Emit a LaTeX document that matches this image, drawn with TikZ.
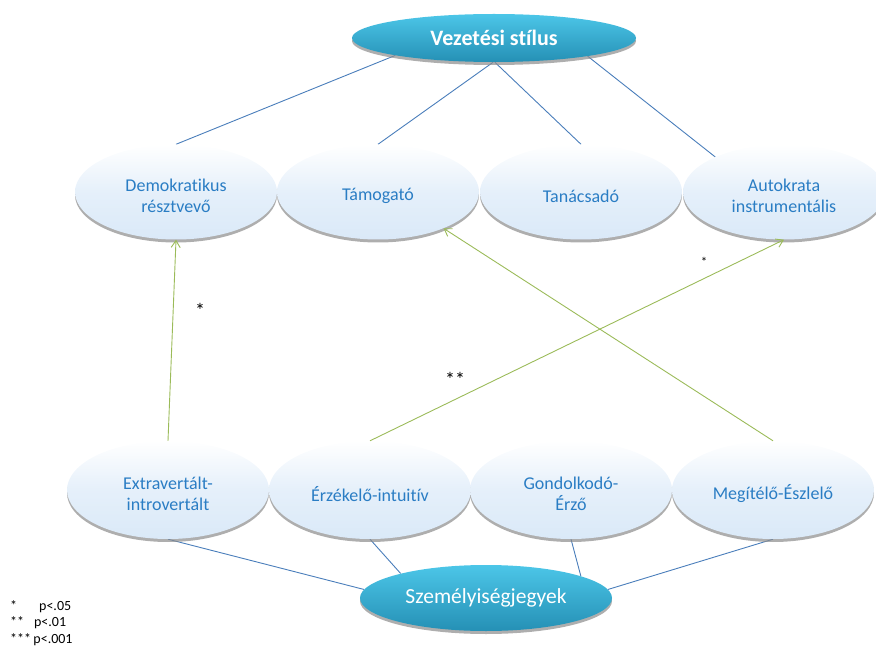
\documentclass[tikz,border=0pt]{standalone}
\usepackage{fontspec}
\setmainfont{Carlito}[Ligatures=NoCommon]
\usetikzlibrary{shapes.geometric,shadows,arrows.meta,backgrounds}
\definecolor{txtblue}{HTML}{2A7DC4}
\definecolor{lineblue}{HTML}{4A7EBB}
\definecolor{arrgreen}{HTML}{9BBB59}
\definecolor{ellface}{HTML}{DAE9F8}
\definecolor{cyanA}{HTML}{4CC6E8}
\definecolor{cyanB}{HTML}{2590B5}
\tikzset{
  lbltxt/.style={text=txtblue, font=\fontsize{18}{21}\selectfont, align=center, yshift=-4pt, inner sep=0pt},
  lightell/.style={ellipse, draw=none, minimum width=202pt, minimum height=95pt, inner sep=0pt,
    top color=white, bottom color=ellface, middle color=ellface!70,
    drop shadow={shadow xshift=0pt, shadow yshift=-3pt, fill=black!45, opacity=0.7},
    label={[lbltxt]center:#1}},
  darkell/.style={ellipse, draw=none, inner sep=0pt,
    top color=cyanA, bottom color=cyanB,
    drop shadow={shadow xshift=0pt, shadow yshift=-3pt, fill=black!45, opacity=0.7},
    text=white, align=center},
  conn/.style={draw=lineblue, line width=0.9pt},
  garrow/.style={draw=arrgreen, line width=0.9pt, -{Straight Barb[length=7pt,width=9pt]}},
  star/.style={font=\fontsize{20}{20}\selectfont, inner sep=0pt},
  legend/.style={font=\fontsize{14}{16}\selectfont, anchor=west, inner sep=0pt}
}
\begin{document}
\begin{tikzpicture}[x=1pt,y=-1pt]
\useasboundingbox (0,0) rectangle (876,647);
% top
\node[darkell, minimum width=284pt, minimum height=48pt, font=\bfseries\fontsize{22}{24}\selectfont] (vez) at (494,38) {Vezetési stílus};
% middle row
\node[lightell={Demokratikus\\résztvevő}] (dem) at (176,192) {};
\node[lightell={Támogató}] (tam) at (378,192) {};
\node[lightell={Tanácsadó}] (tan) at (581,192) {};
\node[lightell={Autokrata\\instrumentális}] (aut) at (784,192) {};
% bottom row
\node[lightell={Extravertált-\\introvertált}, minimum height=98pt] (ext) at (168,490) {};
\node[lightell={Érzékelő-intuitív}, minimum height=98pt] (erz) at (370,490) {};
\node[lightell={Gondolkodó-\\Érző}, minimum height=98pt] (gon) at (571,490) {};
\node[lightell={Megítélő-Észlelő}, minimum height=98pt] (meg) at (773,490) {};
% bottom dark
\node[darkell, minimum width=252pt, minimum height=66pt, font=\fontsize{21.5}{24}\selectfont] (szem) at (486,598) {Személyiségjegyek};
\begin{scope}[on background layer]
\draw[conn] (vez.190) -- (dem.north);
\draw[conn] (vez.268) -- (tam.north);
\draw[conn] (vez.272) -- (tan.north);
\draw[conn] (vez.349) -- (aut.153);
\draw[conn] (ext.south) -- (szem.176);
\draw[conn] (erz.south) -- (szem.164);
\draw[conn] (gon.south) -- (szem.13);
\draw[conn] (meg.south) -- (szem.4);
\end{scope}
\draw[garrow] (ext.north) -- (dem.south);
\draw[garrow] (erz.north) -- (aut.south);
\draw[garrow] (meg.north) -- (tam.331);
% stars
\node[star] (s1) at (200,310) {*};
\node[star] (s2) at (455,379) {**};
\node[star, font=\fontsize{13}{13}\selectfont] (s3) at (704,262) {*};
% legend
\node[legend] (l1) at (10,607) {*\hspace{22pt}p<.05};
\node[legend] (l2) at (10,623) {**\hspace{10pt}p<.01};
\node[legend] (l3) at (10,640) {***\,p<.001};
\end{tikzpicture}
\end{document}
